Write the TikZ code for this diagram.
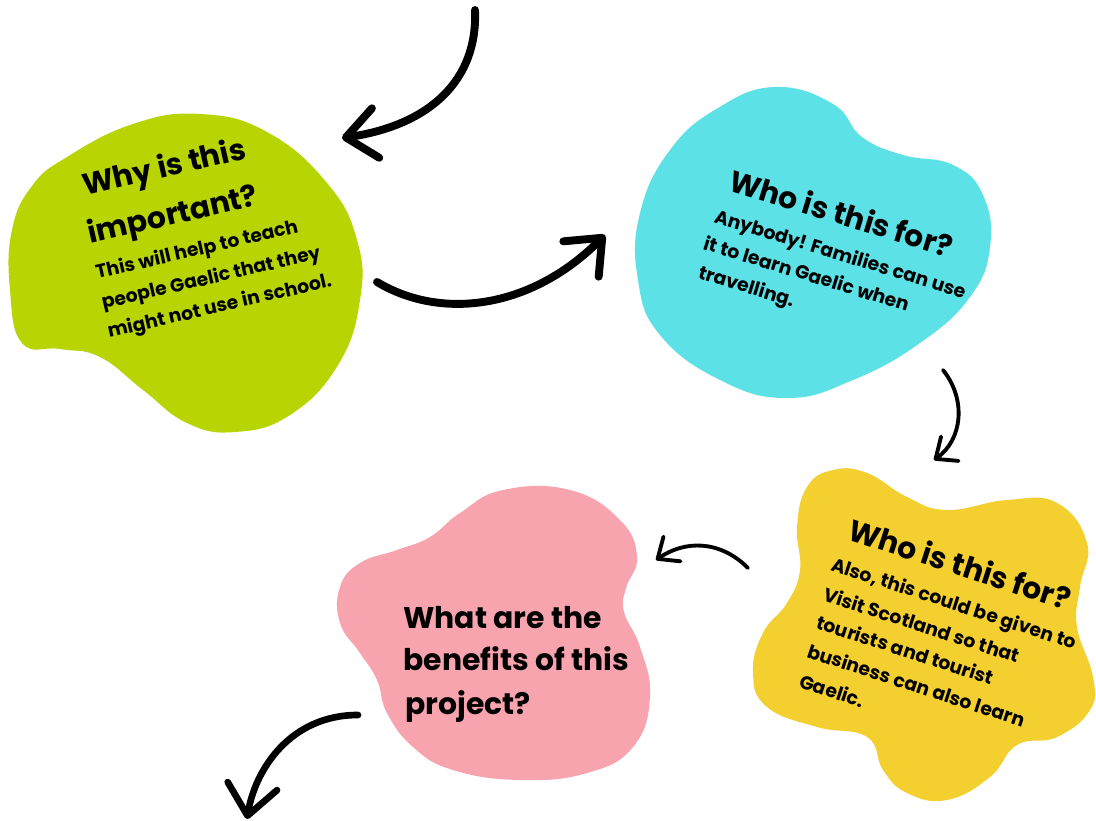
\documentclass[tikz,border=0pt]{standalone}
\usepackage{fontspec}
\setmainfont{Poppins}
\usetikzlibrary{arrows.meta}
\definecolor{blobgreen}{RGB}{184,212,2}
\definecolor{blobcyan}{RGB}{92,225,230}
\definecolor{blobyellow}{RGB}{243,207,47}
\definecolor{blobpink}{RGB}{247,164,174}
\begin{document}
\begin{tikzpicture}[x=0.02cm,y=-0.02cm,
  blob/.style={smooth cycle, tension=0.75},
  ttl/.style={font=\fontsize{17}{20}\selectfont\bfseries, anchor=base west, inner sep=0pt},
  bdy/.style={font=\fontsize{10.7}{13}\selectfont\bfseries, anchor=base west, inner sep=0pt},
  brush/.style={line width=4.5pt, line cap=round, -{Straight Barb[length=6mm,width=10mm,round]}},
  thinbrush/.style={line width=2.2pt, line cap=round, -{Straight Barb[length=3.5mm,width=6mm,round]}}
]
\useasboundingbox (0,0) rectangle (1096,821);
\fill[white] (0,0) rectangle (1096,821);

% blobs
\fill[blobgreen] plot[blob] coordinates {(12,230) (32,186) (67,157) (133,124) (200,114) (267,132) (327,183) (357,240) (360,300) (338,365) (290,415) (235,432) (187,423) (143,390) (100,357) (60,349) (22,343) (10,290)};
\fill[blobcyan] plot[blob] coordinates {(670,150) (718,108) (775,87) (833,104) (862,137) (903,155) (953,165) (983,195) (990,247) (970,297) (920,343) (853,380) (787,398) (720,380) (660,335) (638,280) (640,213)};
\fill[blobyellow] plot[blob] coordinates {(797,527) (807,487) (833,470) (867,473) (907,497) (947,510) (1007,500) (1057,503) (1087,543) (1080,587) (1077,627) (1093,677) (1090,710) (1057,737) (1017,745) (990,777) (947,800) (907,793) (883,770) (867,737) (817,727) (767,707) (753,673) (763,633) (787,603) (800,570)};
\fill[blobpink] plot[blob] coordinates {(460,513) (503,490) (570,490) (620,520) (637,557) (626,588) (624,612) (640,647) (650,697) (633,747) (587,773) (520,780) (453,770) (413,747) (387,713) (377,680) (360,653) (340,623) (340,587) (360,563) (397,550) (430,537)};

% green texts
\node[ttl, rotate=13] (g1) at (85,196) {Why is this};
\node[ttl, rotate=13] (g2) at (90,244) {important?};
\node[bdy, rotate=13] (g3) at (97,279) {This will help to teach};
\node[bdy, rotate=13] (g4) at (103,309) {people Gaelic that they};
\node[bdy, rotate=13] (g5) at (109,338) {might not use in school.};

% cyan texts
\node[ttl, rotate=-17] (c1) at (727,190) {Who is this for?};
\node[bdy, rotate=-17] (c2) at (713,222) {Anybody! Families can use};
\node[bdy, rotate=-17] (c3) at (702,249) {it to learn Gaelic when};
\node[bdy, rotate=-17] (c4) at (697,278) {travelling.};

% yellow texts
\node[ttl, rotate=-18] (y1) at (846,539) {Who is this for?};
\node[bdy, rotate=-18] (y2) at (830,570) {Also, this could be given to};
\node[bdy, rotate=-18] (y3) at (822,600) {Visit Scotland so that};
\node[bdy, rotate=-18] (y4) at (815,628) {tourists and tourist};
\node[bdy, rotate=-18] (y5) at (806,657) {business can also learn};
\node[bdy, rotate=-18] (y6) at (798,687) {Gaelic.};

% pink texts
\node[ttl] (p1) at (403,628) {What are the};
\node[ttl] (p2) at (403,670) {benefits of this};
\node[ttl] (p3) at (405,714) {project?};

% arrows
\coordinate (a1s) at (475,10);
\coordinate (a1e) at (342,138);
\coordinate (a2s) at (377,282);
\coordinate (a2e) at (605,235);
\coordinate (a3s) at (943,370);
\coordinate (a3e) at (934,460);
\coordinate (a4s) at (748,568);
\coordinate (a4e) at (656,560);
\coordinate (a5s) at (358,715);
\coordinate (a5e) at (247,819);

\draw[brush] (a1s) .. controls (478,80) and (430,125) .. (a1e);
\draw[brush] (a2s) .. controls (440,320) and (530,310) .. (a2e);
\draw[thinbrush] (a3s) .. controls (967,400) and (962,440) .. (a3e);
\draw[thinbrush] (a4s) .. controls (720,540) and (685,540) .. (a4e);
\draw[brush, line width=3.8pt] (a5s) .. controls (290,715) and (255,770) .. (a5e);
\end{tikzpicture}
\end{document}
